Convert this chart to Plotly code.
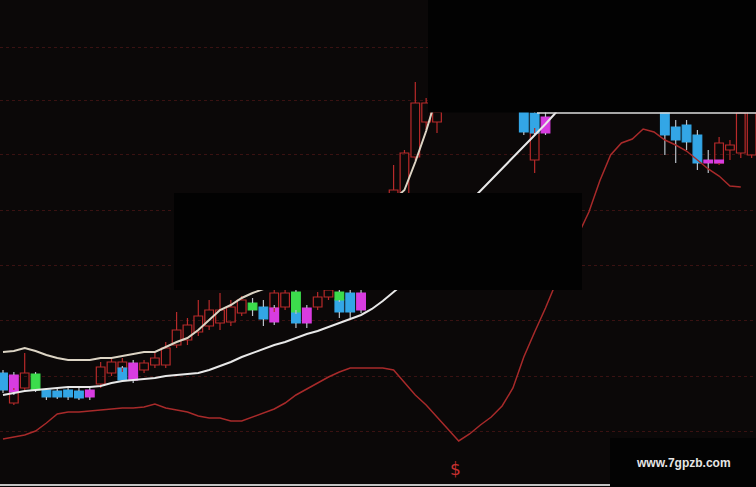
import plotly.graph_objects as go

# ---------------- data (price units, index = bar number) ----------------
red_idx = [1, 2, 9, 10, 11, 13, 14, 15, 16, 17, 18, 19, 20, 21, 22, 25, 26, 29, 30,
           36, 37, 38, 39, 40, 49, 66, 67, 68, 69]
red_open = [9.7, 11.2, 11.6, 12.7, 13.2, 13.0, 13.5, 13.5, 15.5, 16.0, 16.8, 17.4, 17.7, 17.8,
            18.7, 19.2, 19.3, 19.3, 20.3, 27.0, 29.0, 34.3, 37.8, 37.8, 34.0, 33.7, 35.0, 34.7, 34.5]
red_close = [11.0, 12.7, 13.3, 13.8, 13.8, 13.7, 14.2, 15.2, 17.0, 17.5, 18.4, 19.0, 19.0, 19.3,
             20.0, 20.7, 20.7, 20.3, 21.0, 31.0, 34.7, 39.7, 39.7, 38.8, 36.7, 35.7, 35.5, 38.7, 40.0]
red_high = [11.2, 14.7, 13.8, 14.3, 14.2, 14.0, 14.7, 15.8, 18.8, 18.2, 20.0, 20.0, 20.7, 20.0,
            20.4, 21.0, 21.0, 20.8, 21.3, 33.5, 35.0, 41.8, 40.2, 39.2, 37.2, 36.3, 36.0, 39.2, 40.5]
red_low = [9.5, 10.8, 11.2, 12.4, 12.8, 12.7, 13.2, 13.2, 15.2, 15.5, 16.4, 17.0, 17.0, 17.4,
           18.4, 18.8, 19.0, 19.0, 20.0, 26.5, 28.5, 34.0, 37.0, 36.7, 32.7, 33.5, 34.0, 34.2, 34.2]

cyan_idx = [0, 4, 5, 6, 7, 11, 24, 27, 31, 32, 48, 49, 61, 62, 63, 64]
cyan_open = [11.0, 10.3, 10.3, 10.3, 10.2, 12.0, 18.1, 17.7, 18.8, 18.8, 36.8, 36.7, 36.5, 36.0, 35.8, 33.7]
cyan_close = [12.7, 11.0, 10.9, 11.0, 10.9, 13.2, 19.3, 18.8, 20.0, 20.7, 39.5, 38.7, 39.5, 37.3, 37.5, 36.5]
cyan_high = [13.0, 11.2, 11.1, 11.3, 11.2, 13.4, 20.0, 19.0, 20.0, 21.0, 40.0, 39.0, 40.0, 38.0, 38.0, 37.0]
cyan_low = [10.7, 10.0, 10.1, 10.0, 10.0, 11.8, 17.4, 17.2, 18.2, 18.2, 36.5, 36.5, 34.5, 33.7, 35.0, 33.0]

mag_idx = [1, 8, 12, 25, 28, 33, 50, 65, 66]
mag_open = [10.8, 10.3, 12.0, 17.8, 17.7, 19.0, 36.7, 33.7, 33.7]
mag_close = [12.5, 11.0, 13.7, 19.2, 19.2, 20.7, 38.3, 34.0, 34.0]
mag_high = [12.8, 11.2, 14.0, 19.5, 19.5, 21.0, 38.8, 35.0, 34.0]
mag_low = [10.5, 10.0, 11.7, 17.5, 17.2, 18.7, 36.5, 32.7, 33.7]

grn_idx = [3, 23, 27, 31]
grn_open = [11.0, 19.0, 18.8, 20.0]
grn_close = [12.6, 19.7, 20.8, 20.8]
grn_high = [12.8, 20.2, 21.0, 21.0]
grn_low = [10.8, 18.4, 18.6, 19.8]

band_idx = list(range(70))
N = None
upper_band = [14.8, 14.9, 15.2, 14.9, 14.5, 14.2, 14.0, 14.0, 14.0, 14.2,
              14.2, 14.4, 14.6, 14.8, 14.8, 15.3, 15.8, 16.2, 17.0, 18.0,
              19.0, 19.5, 20.2, 20.7, 21.1, 21.7] + [N] * 10 + \
             [30.0, 31.0, 33.8, 36.9, 40.5] + [N] * 29
mid_band = [10.5, 10.7, 10.9, 11.0, 11.1, 11.2, 11.3, 11.3, 11.3, 11.4,
            11.7, 11.9, 12.0, 12.1, 12.2, 12.4, 12.5, 12.6, 12.7, 13.0,
            13.4, 13.8, 14.3, 14.7, 15.1, 15.5, 15.8, 16.2, 16.6, 16.9,
            17.3, 17.7, 18.1, 18.5, 19.1, 19.9, 20.8, 21.7] + [N] * 5 + \
           [29.8, 30.9, 32.0, 33.1, 34.2, 35.3, 36.4, 37.6, 38.8] + [N] * 18
lower_band = [6.1, 6.3, 6.5, 6.9, 7.7, 8.6, 8.8, 8.8, 8.9, 9.0,
              9.1, 9.2, 9.2, 9.3, 9.6, 9.2, 9.0, 8.8, 8.4, 8.2,
              8.2, 7.9, 7.9, 8.3, 8.7, 9.1, 9.7, 10.5, 11.1, 11.7,
              12.3, 12.8, 13.2, 13.2, 13.2, 13.2, 13.0, 11.8, 10.5, 9.5,
              8.3, 7.0, 5.9, 6.6, 7.5, 8.3, 9.4, 11.2, 14.3, 16.8,
              19.2, 21.8, 24.4, 26.5, 28.8, 31.9, 34.5, 35.7, 36.1, 37.1,
              36.8, 36.0, 35.5, 34.9, 34.0, 33.1, 32.4, 31.4, 31.3, N]

grid_levels = [45.3, 40.0, 34.6, 29.0, 23.5, 18.0, 12.4, 6.9]
signal_idx, signal_price, signal_text = 41.75, 3.1, "$"
watermark = "www.7gpzb.com"

# ---------------- styling ----------------
W, H = 756, 487
BG = "#0b0808"
RED = "#b82a2a"
CYAN = "#33a6e6"
MAG = "#d83ce0"
GRN = "#3cdc4c"
BODY_W = 0.8

fig = go.Figure()


def wick_xy(idx, o, c, hi, lo):
    xs, ys = [], []
    for i, a, b, h, l in zip(idx, o, c, hi, lo):
        top, bot = max(a, b), min(a, b)
        xs += [i, i, None, i, i, None]
        ys += [h, top, None, bot, l, None]
    return xs, ys


def add_candles(idx, o, c, hi, lo, fill, line, wick):
    wx, wy = wick_xy(idx, o, c, hi, lo)
    fig.add_trace(go.Scatter(x=wx, y=wy, mode="lines",
                             line=dict(color=wick, width=1.2), hoverinfo="skip"))
    fig.add_trace(go.Bar(x=idx, y=[abs(b - a) for a, b in zip(o, c)],
                         base=[min(a, b) for a, b in zip(o, c)],
                         width=BODY_W, marker=dict(color=fill, line=dict(color=line, width=1.2)),
                         hoverinfo="skip"))


add_candles(red_idx, red_open, red_close, red_high, red_low, "rgba(0,0,0,0)", RED, RED)
add_candles(cyan_idx, cyan_open, cyan_close, cyan_high, cyan_low, CYAN, CYAN, "#b8c0c8")
add_candles(grn_idx, grn_open, grn_close, grn_high, grn_low, GRN, GRN, "#b8c0c8")
add_candles(mag_idx, mag_open, mag_close, mag_high, mag_low, MAG, MAG, "#b8c0c8")

fig.add_trace(go.Scatter(x=band_idx, y=lower_band, mode="lines",
                         line=dict(color="#a82a2a", width=1.5), hoverinfo="skip"))
fig.add_trace(go.Scatter(x=band_idx, y=upper_band, mode="lines",
                         line=dict(color="#dcd4c4", width=2), hoverinfo="skip"))
fig.add_trace(go.Scatter(x=band_idx, y=mid_band, mode="lines",
                         line=dict(color="#e8e8e8", width=2), hoverinfo="skip"))


def px(x):
    return x / W


def py(y):
    return 1 - y / H


shapes = [
    # pasted-over black boxes
    dict(type="rect", xref="paper", yref="paper", x0=px(428), x1=px(757), y0=py(112.5), y1=py(-1),
         fillcolor="#020202", line=dict(width=0), layer="above"),
    dict(type="rect", xref="paper", yref="paper", x0=px(174), x1=px(582), y0=py(290), y1=py(193),
         fillcolor="#020202", line=dict(width=0), layer="above"),
    dict(type="line", xref="paper", yref="paper", x0=px(537), x1=px(757), y0=py(113), y1=py(113),
         line=dict(color="#dcdcdc", width=1.5), layer="above"),
    # bottom axis line
    dict(type="line", xref="paper", yref="paper", x0=0, x1=px(612), y0=py(485), y1=py(485),
         line=dict(color="#c4c4c4", width=2), layer="above"),
    dict(type="rect", xref="paper", yref="paper", x0=px(610), x1=px(757), y0=py(488), y1=py(438),
         fillcolor="#030303", line=dict(width=0), layer="above"),
]

fig.update_layout(
    width=W, height=H, margin=dict(l=0, r=0, t=0, b=0),
    paper_bgcolor=BG, plot_bgcolor=BG, showlegend=False, barmode="overlay",
    xaxis=dict(range=[-3 / 10.85, (W - 3) / 10.85], visible=False, fixedrange=True),
    yaxis=dict(range=[50 - H / 10, 50], tickvals=grid_levels, showticklabels=False,
               showgrid=True, gridcolor="#3a1212", griddash="dot", gridwidth=1,
               zeroline=False, showline=False, ticks="", fixedrange=True),
    shapes=shapes,
    annotations=[
        dict(x=signal_idx, y=signal_price, xref="x", yref="y", text=signal_text, showarrow=False,
             xanchor="center", yanchor="middle",
             font=dict(family="DejaVu Sans", size=17, color="#c83030")),
        dict(x=px(683), y=py(463), xref="paper", yref="paper", text="<b>" + watermark + "</b>",
             showarrow=False, xanchor="center", yanchor="middle",
             font=dict(family="Liberation Sans", size=12, color="#e6e6e6")),
    ],
)

fig.write_html(
    "out.html",
    config={"displayModeBar": False},
    post_script="document.body.style.margin='0';document.body.style.padding='0';"
                "document.body.style.overflow='hidden';document.body.style.background='" + BG + "';",
)
